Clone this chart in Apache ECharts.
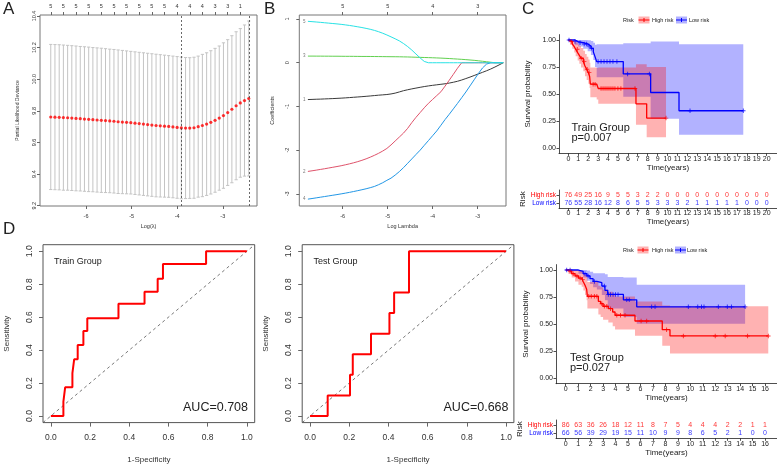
<!DOCTYPE html>
<html><head><meta charset="utf-8">
<script src="https://cdn.jsdelivr.net/npm/echarts@6/dist/echarts.min.js"></script>
<style>html,body{margin:0;padding:0;background:#fff}#c{width:777px;height:468px}</style>
</head><body><div id="c"></div>
<script>
const FF = '"Liberation Sans", Arial, Helvetica, sans-serif';

// ---------- Panel A : cross-validation curve ----------
const lambdaLog = [-6.774,-6.682,-6.589,-6.497,-6.404,-6.312,-6.220,-6.127,-6.035,-5.942,-5.850,-5.758,-5.665,-5.573,-5.480,-5.388,-5.296,-5.203,-5.111,-5.018,-4.926,-4.834,-4.741,-4.649,-4.556,-4.464,-4.372,-4.279,-4.187,-4.094,-4.002,-3.910,-3.817,-3.725,-3.632,-3.540,-3.448,-3.355,-3.263,-3.170,-3.078,-2.986,-2.893,-2.801,-2.708,-2.616,-2.524,-2.431];
const cvMean = [9.761,9.760,9.759,9.757,9.756,9.754,9.752,9.750,9.748,9.746,9.744,9.742,9.740,9.738,9.736,9.734,9.731,9.729,9.727,9.725,9.722,9.719,9.716,9.713,9.710,9.707,9.705,9.703,9.701,9.698,9.695,9.692,9.691,9.691,9.693,9.700,9.707,9.716,9.727,9.740,9.754,9.770,9.789,9.810,9.832,9.850,9.865,9.878];
const cvUpper = [10.220,10.219,10.218,10.216,10.214,10.212,10.210,10.207,10.205,10.203,10.200,10.198,10.196,10.193,10.190,10.188,10.185,10.182,10.179,10.176,10.173,10.170,10.167,10.164,10.161,10.158,10.155,10.152,10.149,10.146,10.143,10.140,10.137,10.136,10.139,10.146,10.157,10.167,10.180,10.195,10.210,10.230,10.250,10.275,10.300,10.320,10.343,10.368];
const cvLower = [9.302,9.301,9.300,9.298,9.298,9.296,9.294,9.293,9.291,9.289,9.288,9.286,9.284,9.283,9.282,9.280,9.277,9.276,9.275,9.274,9.271,9.268,9.265,9.262,9.259,9.256,9.255,9.254,9.253,9.250,9.247,9.244,9.245,9.246,9.247,9.254,9.257,9.265,9.274,9.285,9.298,9.310,9.328,9.345,9.364,9.380,9.387,9.388];
const aTopLambda = [-6.774,-6.497,-6.220,-5.942,-5.665,-5.388,-5.111,-4.834,-4.556,-4.279,-4.002,-3.725,-3.448,-3.170,-2.893,-2.616];
const aTopCount = [5,5,5,5,5,5,5,5,5,5,4,4,4,3,3,1];
const lambdaMin = -3.910, lambda1se = -2.431;
const aXTicks = [-6,-5,-4,-3];
const aYTicks = [9.2,9.4,9.6,9.8,10.0,10.2,10.4];

// ---------- Panel B : coefficient paths ----------
const coef1 = [-0.842,-0.839,-0.835,-0.832,-0.828,-0.824,-0.820,-0.815,-0.810,-0.804,-0.797,-0.790,-0.783,-0.776,-0.768,-0.760,-0.751,-0.742,-0.735,-0.727,-0.714,-0.695,-0.668,-0.640,-0.618,-0.598,-0.580,-0.562,-0.545,-0.530,-0.517,-0.505,-0.493,-0.481,-0.465,-0.446,-0.424,-0.395,-0.362,-0.328,-0.292,-0.256,-0.220,-0.183,-0.143,-0.098,-0.050,0.000];
const coef2 = [-2.486,-2.472,-2.457,-2.441,-2.425,-2.408,-2.391,-2.374,-2.356,-2.335,-2.313,-2.289,-2.262,-2.232,-2.198,-2.160,-2.118,-2.072,-2.020,-1.960,-1.880,-1.790,-1.700,-1.610,-1.500,-1.370,-1.250,-1.140,-1.030,-0.928,-0.840,-0.752,-0.664,-0.535,-0.400,-0.265,-0.125,0,0,0,0,0,0,0,0,0,0,0];
const coef3 = [0.152,0.152,0.151,0.151,0.150,0.150,0.149,0.149,0.148,0.147,0.147,0.146,0.145,0.144,0.144,0.143,0.142,0.141,0.140,0.139,0.138,0.137,0.136,0.134,0.132,0.129,0.126,0.123,0.120,0.117,0.114,0.110,0.106,0.101,0.096,0.090,0.084,0.078,0.071,0.063,0.055,0.045,0.034,0.023,0.011,0,0,0];
const coef4 = [-3.120,-3.106,-3.091,-3.076,-3.061,-3.046,-3.031,-3.016,-3.000,-2.983,-2.965,-2.946,-2.926,-2.905,-2.883,-2.858,-2.830,-2.790,-2.745,-2.690,-2.640,-2.570,-2.490,-2.400,-2.300,-2.200,-2.100,-2.000,-1.890,-1.780,-1.670,-1.560,-1.430,-1.300,-1.180,-1.055,-0.930,-0.800,-0.670,-0.530,-0.390,-0.250,-0.120,-0.030,0,0,0,0];
const coef5 = [0.947,0.940,0.932,0.924,0.915,0.906,0.897,0.888,0.878,0.866,0.853,0.838,0.822,0.805,0.786,0.765,0.740,0.710,0.675,0.635,0.592,0.548,0.500,0.440,0.370,0.290,0.200,0.110,0.030,0,0,0,0,0,0,0,0,0,0,0,0,0,0,0,0,0,0,0];
const coefNames = ['1','2','3','4','5'];
const coefColors = ['#3a3a3a','#DF536B','#61D04F','#2297E6','#28E2E5'];
const bXTicks = [-6,-5,-4,-3];
const bYTicks = [-3,-2,-1,0,1];
const bTopTicks = [-6,-5,-4,-3];
const bTopLabels = [5,5,4,3];

// ---------- Panel C : Kaplan-Meier, train ----------
const trainTimes = [0,1,2,3,4,5,6,7,8,9,10,11,12,13,14,15,16,17,18,19,20];
const trainHighN = [76,49,25,16,9,5,5,3,2,2,0,0,0,0,0,0,0,0,0,0,0];
const trainLowN  = [76,55,28,16,12,8,6,5,5,3,3,3,2,1,1,1,1,1,0,0,0];
const trHighT  = [0,0.17,0.40,0.60,0.74,0.94,1.11,1.28,1.51,1.68,1.85,2.02,2.15,2.22,2.86,3.02,6.82,7.90];
const trHighS  = [1,0.985,0.963,0.938,0.914,0.883,0.858,0.831,0.800,0.760,0.729,0.698,0.662,0.591,0.575,0.551,0.409,0.277];
const trHighLo = [1,0.955,0.920,0.885,0.850,0.810,0.780,0.745,0.710,0.665,0.630,0.595,0.555,0.470,0.450,0.410,0.215,0.100];
const trHighHi = [1,1,1,0.995,0.980,0.960,0.945,0.925,0.900,0.870,0.845,0.820,0.790,0.745,0.740,0.745,0.775,0.750];
const trHighEnd = 9.85;
const trHighCens = [0.3,0.9,1.3,1.6,1.9,2.1,2.5,2.7,3.3,3.5,3.7,3.9,4.1,4.3,4.5,4.7,5.0,5.3,6.72,9.85];
const trLowT  = [0,0.67,1.00,1.50,1.95,2.28,2.52,2.69,2.86,5.54,8.30,11.16];
const trLowS  = [1,0.985,0.975,0.963,0.945,0.923,0.890,0.846,0.800,0.686,0.514,0.345];
const trLowLo = [1,0.955,0.940,0.920,0.895,0.860,0.815,0.750,0.655,0.475,0.270,0.123];
const trLowHi = [1,1,1,1,0.998,0.990,0.975,0.955,0.960,0.970,0.985,0.960];
const trLowEnd = 17.64;
const trLowCens = [0.07,0.67,1.18,1.6,1.85,2.1,2.35,3.0,3.3,3.6,3.9,4.2,4.5,4.9,5.98,8.17,12.27,17.64];

// ---------- Panel C : Kaplan-Meier, test ----------
const testTimes = [0,1,2,3,4,5,6,7,8,9,10,11,12,13,14,15,16];
const testHighN = [86,63,36,26,18,12,11,8,7,5,4,4,4,2,2,1,1];
const testLowN  = [66,56,39,29,19,15,11,10,9,9,8,6,5,2,1,0,0];
const teHighT  = [0,0.21,0.48,0.75,1.02,1.28,1.42,1.55,1.68,1.74,2.62,2.80,3.00,3.42,3.77,3.96,5.56,7.75,8.37];
const teHighS  = [1,0.988,0.966,0.945,0.926,0.914,0.890,0.860,0.822,0.757,0.711,0.689,0.665,0.643,0.612,0.582,0.529,0.449,0.391];
const teHighLo = [1,0.965,0.930,0.895,0.865,0.845,0.810,0.770,0.720,0.645,0.590,0.565,0.540,0.515,0.480,0.450,0.394,0.300,0.230];
const teHighHi = [1,1,1,1,0.990,0.985,0.970,0.955,0.935,0.890,0.855,0.840,0.820,0.800,0.780,0.755,0.710,0.672,0.665];
const teHighEnd = 16.26;
const teHighCens = [0.35,0.6,0.9,1.15,1.35,1.85,2.05,2.3,2.5,2.9,3.1,3.3,3.6,4.1,4.4,4.76,6.05,6.5,8.1,9.44,12.0,12.8,14.6,16.26];
const teLowT  = [0,1.02,1.40,1.70,1.95,2.20,2.50,2.90,3.15,3.37,4.63,5.70];
const teLowS  = [1,0.988,0.966,0.945,0.920,0.895,0.883,0.852,0.812,0.775,0.725,0.660];
const teLowLo = [1,0.965,0.930,0.900,0.870,0.840,0.820,0.770,0.720,0.645,0.565,0.504];
const teLowHi = [1,1,1,0.995,0.985,0.970,0.970,0.970,0.960,0.935,0.930,0.865];
const teLowEnd = 14.4;
const teLowCens = [0.08,0.35,1.55,1.8,2.3,3.1,3.42,3.6,3.8,4.0,4.2,4.9,5.1,6.9,7.17,9.84,10.6,10.9,11.1,12.25,12.97,13.3,14.4];
const survTicks = [0,0.25,0.5,0.75,1];

// ---------- Panel D : ROC ----------
const rocTrainFpr = [0,0.064,0.073,0.110,0.119,0.137,0.166,0.186,0.345,0.478,0.545,0.572,0.792,1.0];
const rocTrainTpr = [0,0.087,0.174,0.260,0.344,0.431,0.516,0.593,0.682,0.755,0.834,0.923,1.0,1.0];
const rocTestFpr = [0,0.090,0.204,0.218,0.311,0.405,0.429,0.505,1.0];
const rocTestTpr = [0,0.125,0.250,0.375,0.500,0.625,0.750,1.0,1.0];
const rocTicks = [0,0.2,0.4,0.6,0.8,1.0];

// ================= helpers =================
const RED = '#FF0000', BLUE = '#0000FF';
const PLUS = 'path://M4,0h2v4h4v2h-4v4h-2v-4h-4v-2h4z';
function zip(a, b) { return a.map((v, i) => [v, b[i]]); }
function sAt(T, S, t) { let v = S[0]; for (let i = 0; i < T.length; i++) if (T[i] <= t) v = S[i]; return v; }

function rAxis(grid, min, max, ticks, o) {
  return {
    gridIndex: grid, type: 'value', min: min, max: max, position: o.pos,
    axisLine: { show: false, onZero: false },
    splitLine: { show: false },
    axisTick: { show: true, length: o.tl || 3, customValues: ticks, lineStyle: { color: '#666', width: 1 } },
    axisLabel: { customValues: ticks, fontSize: o.fs, color: '#333', margin: o.m, rotate: o.rot || 0,
      fontFamily: FF, formatter: o.fmt },
    name: o.name || '', nameLocation: 'middle', nameGap: o.ng || 10, nameRotate: o.nr,
    nameTextStyle: { fontSize: o.nfs || 6, color: '#333', fontFamily: FF }
  };
}
function gAxis(grid, min, max, ticks, o) {
  return {
    gridIndex: grid, type: 'value', min: min, max: max,
    axisLine: { show: true, onZero: false, lineStyle: { color: '#222', width: 0.8 } },
    splitLine: { show: false },
    axisTick: { show: true, length: 2.5, customValues: ticks, lineStyle: { color: '#222', width: 0.8 } },
    axisLabel: { customValues: ticks, fontSize: o.fs || 7, color: o.lc || '#222', margin: o.m, fontFamily: FF, formatter: o.fmt },
    name: o.name || '', nameLocation: 'middle', nameGap: o.ng || 10,
    nameTextStyle: { fontSize: o.nfs || 8, color: '#222', fontFamily: FF }
  };
}
function bandSeries(xi, yi, T, lo, hi, end, color) {
  return {
    type: 'custom', xAxisIndex: xi, yAxisIndex: yi, silent: true, z: 1,
    data: [[T[0], lo[0]]],
    renderItem: function (p, api) {
      const up = [], dn = [];
      for (let i = 0; i < T.length; i++) {
        const t1 = i + 1 < T.length ? T[i + 1] : end;
        up.push(api.coord([T[i], hi[i]]), api.coord([t1, hi[i]]));
        dn.push(api.coord([T[i], lo[i]]), api.coord([t1, lo[i]]));
      }
      return { type: 'polygon', shape: { points: up.concat(dn.reverse()) }, style: { fill: color } };
    }
  };
}
function kmSeries(xi, yi, T, S, end, color) {
  return { type: 'line', xAxisIndex: xi, yAxisIndex: yi, step: 'end', showSymbol: false, silent: true, z: 3,
    data: zip(T, S).concat([[end, S[S.length - 1]]]), lineStyle: { color: color, width: 1.3 } };
}
function censSeries(xi, yi, T, S, cens, color) {
  return { type: 'scatter', xAxisIndex: xi, yAxisIndex: yi, symbol: PLUS, symbolSize: 4.5, silent: true, z: 4,
    itemStyle: { color: color }, data: cens.map(t => [t, sAt(T, S, t)]) };
}
function riskRow(xi, yi, times, counts, row, color) {
  return { type: 'scatter', xAxisIndex: xi, yAxisIndex: yi, symbolSize: 1, silent: true,
    itemStyle: { color: 'rgba(0,0,0,0)' },
    label: { show: true, position: 'inside', formatter: p => String(p.value[2]), color: color, fontSize: 7, fontFamily: FF },
    data: times.map((t, i) => [t, row, counts[i]]) };
}
function rocSeries(xi, yi, fpr, tpr) {
  return { type: 'line', xAxisIndex: xi, yAxisIndex: yi, step: 'end', showSymbol: false, silent: true, z: 3,
    data: zip(fpr, tpr), lineStyle: { color: RED, width: 2 } };
}
function diagSeries(xi, yi) {
  return { type: 'line', xAxisIndex: xi, yAxisIndex: yi, showSymbol: false, silent: true, z: 2,
    data: [[-0.04, -0.04], [1.04, 1.04]], lineStyle: { color: '#555', width: 0.8, type: [3, 3] } };
}
const f1 = v => Number(v).toFixed(1);
const f2 = v => Number(v).toFixed(2);
const fi = v => String(Math.round(Number(v)));
function nearestLabel(xs, labs) {
  return v => { let b = 0; for (let i = 0; i < xs.length; i++) if (Math.abs(xs[i] - v) < Math.abs(xs[b] - v)) b = i; return String(labs[b]); };
}
const rowName = v => (Number(v) > 1.5 ? 'High risk' : 'Low risk');
const rowColor = v => (Number(v) > 1.5 ? RED : BLUE);

// ================= layout =================
const grids = [
  { left: 40, top: 15, width: 217, height: 191, show: true, borderColor: '#777', borderWidth: 1 },   // A
  { left: 299.3, top: 15, width: 206.7, height: 191, show: true, borderColor: '#777', borderWidth: 1 }, // B
  { left: 559, top: 34.6, width: 218, height: 118.8 },   // C top KM
  { left: 559, top: 190, width: 218, height: 18.3 },     // C top risk
  { left: 556, top: 264.6, width: 221, height: 119.1 },  // C bottom KM
  { left: 556, top: 420, width: 221, height: 18.3 },     // C bottom risk
  { left: 43, top: 244.7, width: 211.7, height: 177.9, show: true, borderColor: '#555', borderWidth: 1 }, // D1
  { left: 302.2, top: 244.7, width: 211.7, height: 177.9, show: true, borderColor: '#555', borderWidth: 1 } // D2
].map(g => Object.assign({ containLabel: false }, g));

const xAxes = [
  rAxis(0, -7.01, -2.25, aXTicks, { pos: 'bottom', fs: 5.5, m: 7, fmt: fi, name: 'Log(\u03bb)', ng: 17, nfs: 5.5 }),
  rAxis(0, -7.01, -2.25, aTopLambda, { pos: 'top', fs: 5.5, m: 6, fmt: nearestLabel(aTopLambda, aTopCount) }),
  rAxis(1, -6.965, -2.37, bXTicks, { pos: 'bottom', fs: 5.5, m: 7, fmt: fi, name: 'Log Lambda', ng: 17, nfs: 5.5 }),
  rAxis(1, -6.965, -2.37, bTopTicks, { pos: 'top', fs: 5.5, m: 6, fmt: nearestLabel(bTopTicks, bTopLabels) }),
  gAxis(2, -0.94, 21.04, trainTimes, { fs: 7, m: 2, fmt: fi, name: 'Time(years)', ng: 10, nfs: 8 }),
  gAxis(3, -0.94, 21.04, trainTimes, { fs: 7, m: 1.5, fmt: fi, name: 'Time(years)', ng: 8, nfs: 8 }),
  gAxis(4, -0.78, 16.96, testTimes, { fs: 7, m: 2, fmt: fi, name: 'Time(years)', ng: 10, nfs: 8 }),
  gAxis(5, -0.78, 16.96, testTimes, { fs: 7, m: 2, fmt: fi, name: 'Time(years)', ng: 10, nfs: 8 }),
  rAxis(6, -0.04, 1.04, rocTicks, { pos: 'bottom', fs: 8.5, m: 11, tl: 4, fmt: f1, name: '1-Specificity', ng: 33, nfs: 8 }),
  rAxis(7, -0.04, 1.04, rocTicks, { pos: 'bottom', fs: 8.5, m: 11, tl: 4, fmt: f1, name: '1-Specificity', ng: 33, nfs: 8 })
];
const yAxes = [
  rAxis(0, 9.198, 10.406, aYTicks, { pos: 'left', fs: 5.5, m: 3, rot: 90, fmt: f1, name: 'Partial Likelihood Deviance', ng: 20, nfs: 5 }),
  rAxis(1, -3.277, 1.092, bYTicks, { pos: 'left', fs: 5.5, m: 9, rot: 90, fmt: fi, name: 'Coefficients', ng: 24, nfs: 5.5 }),
  gAxis(2, -0.05, 1.05, survTicks, { fs: 7, m: 3, fmt: f2, name: 'Survival probability', ng: 27, nfs: 8 }),
  Object.assign(gAxis(3, 0.31, 2.69, [1, 2], { fs: 6.5, m: 3, fmt: rowName, name: 'Risk', ng: 31, nfs: 8 }), {}),
  gAxis(4, -0.05, 1.05, survTicks, { fs: 7, m: 3, fmt: f2, name: 'Survival probability', ng: 26, nfs: 8 }),
  Object.assign(gAxis(5, 0.4, 2.6, [1, 2], { fs: 6.5, m: 3, fmt: rowName, name: 'Risk', ng: 28, nfs: 8 }), {}),
  rAxis(6, -0.04, 1.04, rocTicks, { pos: 'left', fs: 8.5, m: 9, tl: 4, rot: 90, fmt: f1, name: 'Sensitivity', ng: 32, nfs: 8 }),
  rAxis(7, -0.04, 1.04, rocTicks, { pos: 'left', fs: 8.5, m: 9, tl: 4, rot: 90, fmt: f1, name: 'Sensitivity', ng: 32, nfs: 8 })
];
yAxes[3].axisLabel.color = rowColor;
yAxes[5].axisLabel.color = rowColor;

const series = [];
// A: error bars
series.push({
  type: 'custom', xAxisIndex: 0, yAxisIndex: 0, silent: true, z: 1,
  data: lambdaLog.map((x, i) => [x, cvLower[i], cvUpper[i]]),
  renderItem: function (p, api) {
    const lo = api.coord([api.value(0), api.value(1)]);
    const hi = api.coord([api.value(0), api.value(2)]);
    const st = { stroke: '#c4c4c4', lineWidth: 1 };
    return { type: 'group', children: [
      { type: 'line', shape: { x1: lo[0], y1: lo[1], x2: hi[0], y2: hi[1] }, style: st },
      { type: 'line', shape: { x1: hi[0] - 1.6, y1: hi[1], x2: hi[0] + 1.6, y2: hi[1] }, style: st },
      { type: 'line', shape: { x1: lo[0] - 1.6, y1: lo[1], x2: lo[0] + 1.6, y2: lo[1] }, style: st }
    ] };
  }
});
series.push({
  type: 'scatter', xAxisIndex: 0, yAxisIndex: 0, symbol: 'circle', symbolSize: 3.2, silent: true, z: 3,
  itemStyle: { color: RED }, data: zip(lambdaLog, cvMean),
  markLine: { symbol: 'none', silent: true, label: { show: false },
    lineStyle: { color: '#444', width: 0.8, type: [2, 2] },
    data: [{ xAxis: lambdaMin }, { xAxis: lambda1se }] }
});
// B: coefficient paths
[coef1, coef2, coef3, coef4, coef5].forEach((c, k) => {
  series.push({ type: 'line', xAxisIndex: 2, yAxisIndex: 1, showSymbol: false, silent: true, z: 2,
    data: zip(lambdaLog, c), lineStyle: { color: coefColors[k], width: 1 } });
});
series.push({ type: 'scatter', xAxisIndex: 2, yAxisIndex: 1, symbolSize: 1, silent: true,
  itemStyle: { color: 'rgba(0,0,0,0)' },
  label: { show: true, position: 'left', distance: 2, fontSize: 4.5, color: '#555', formatter: p => coefNames[p.dataIndex] },
  data: [coef1, coef2, coef3, coef4, coef5].map(c => [lambdaLog[0], c[0]]) });

// C top
series.push(bandSeries(4, 2, trLowT, trLowLo, trLowHi, trLowEnd, 'rgba(0,0,255,0.3)'));
series.push(bandSeries(4, 2, trHighT, trHighLo, trHighHi, trHighEnd, 'rgba(255,0,0,0.3)'));
series.push(kmSeries(4, 2, trLowT, trLowS, trLowEnd, BLUE));
series.push(kmSeries(4, 2, trHighT, trHighS, trHighEnd, RED));
series.push(censSeries(4, 2, trLowT, trLowS, trLowCens, BLUE));
series.push(censSeries(4, 2, trHighT, trHighS, trHighCens, RED));
series.push(riskRow(5, 3, trainTimes, trainHighN, 2, RED));
series.push(riskRow(5, 3, trainTimes, trainLowN, 1, BLUE));
// C bottom
series.push(bandSeries(6, 4, teLowT, teLowLo, teLowHi, teLowEnd, 'rgba(0,0,255,0.3)'));
series.push(bandSeries(6, 4, teHighT, teHighLo, teHighHi, teHighEnd, 'rgba(255,0,0,0.3)'));
series.push(kmSeries(6, 4, teLowT, teLowS, teLowEnd, BLUE));
series.push(kmSeries(6, 4, teHighT, teHighS, teHighEnd, RED));
series.push(censSeries(6, 4, teLowT, teLowS, teLowCens, BLUE));
series.push(censSeries(6, 4, teHighT, teHighS, teHighCens, RED));
series.push(riskRow(7, 5, testTimes, testHighN, 2, RED));
series.push(riskRow(7, 5, testTimes, testLowN, 1, BLUE));
// D
series.push(diagSeries(8, 6));
series.push(rocSeries(8, 6, rocTrainFpr, rocTrainTpr));
series.push(diagSeries(9, 7));
series.push(rocSeries(9, 7, rocTestFpr, rocTestTpr));

// ================= annotations =================
function txt(x, y, s, size, o) {
  o = o || {};
  return { type: 'text', x: x, y: y, rotation: o.rot || 0, silent: true, z: 10,
    style: { text: s, fill: o.color || '#222', font: (o.weight || 'normal') + ' ' + size + 'px ' + FF,
      textAlign: o.align || 'left', textVerticalAlign: 'middle' } };
}
function legendKey(x, y, color, fill) {
  return [
    { type: 'rect', shape: { x: x, y: y - 3.5, width: 11, height: 7 }, style: { fill: fill }, silent: true },
    { type: 'line', shape: { x1: x, y1: y, x2: x + 11, y2: y }, style: { stroke: color, lineWidth: 1 }, silent: true },
    { type: 'line', shape: { x1: x + 5.5, y1: y - 2, x2: x + 5.5, y2: y + 2 }, style: { stroke: color, lineWidth: 1 }, silent: true }
  ];
}
const graphics = [
  txt(3, 9, 'A', 17), txt(264, 9, 'B', 17), txt(522, 9, 'C', 17), txt(3, 229, 'D', 17),
  txt(623, 20, 'Risk', 5.5), ...legendKey(638.5, 20, RED, 'rgba(255,0,0,0.3)'), txt(652, 20, 'High risk', 5.5),
  ...legendKey(676, 20, BLUE, 'rgba(0,0,255,0.3)'), txt(689, 20, 'Low risk', 5.5),
  txt(623, 250, 'Risk', 5.5), ...legendKey(637.5, 250, RED, 'rgba(255,0,0,0.3)'), txt(652, 250, 'High risk', 5.5),
  ...legendKey(675, 250, BLUE, 'rgba(0,0,255,0.3)'), txt(687, 250, 'Low risk', 5.5),
  txt(571.5, 127.5, 'Train Group', 11), txt(571.5, 138, 'p=0.007', 11),
  txt(570, 357.5, 'Test Group', 11), txt(570, 368, 'p=0.027', 11),
  txt(54, 261.5, 'Train Group', 9), txt(248, 408, 'AUC=0.708', 12.5, { align: 'right' }),
  txt(313.5, 261.5, 'Test Group', 9), txt(508.5, 408, 'AUC=0.668', 12.5, { align: 'right' })
];

const chart = echarts.init(document.getElementById('c'), null, { renderer: 'canvas' });
chart.setOption({
  animation: false,
  backgroundColor: '#ffffff',
  textStyle: { fontFamily: FF },
  grid: grids, xAxis: xAxes, yAxis: yAxes, series: series, graphic: graphics
});
</script></body></html>
